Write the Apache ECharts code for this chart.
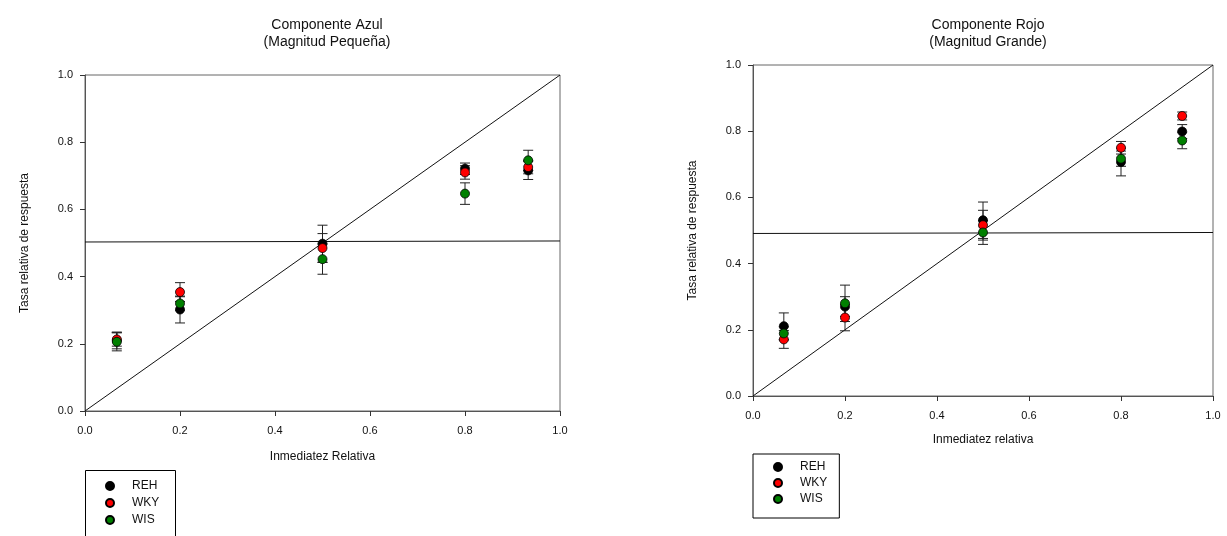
<!DOCTYPE html>
<html>
<head>
<meta charset="utf-8">
<script src="https://cdn.jsdelivr.net/npm/echarts@6/dist/echarts.min.js"></script>
<style>
html,body{margin:0;padding:0;background:#fff;}
#chart{width:1227px;height:536px;}
</style>
</head>
<body>
<div id="chart"></div>
<script>
// ---- Data ----
const seriesNames = ['REH', 'WKY', 'WIS'];
const xValues = [0.067, 0.2, 0.5, 0.8, 0.933];
const tickLabels = ['0.0', '0.2', '0.4', '0.6', '0.8', '1.0'];

// Componente Azul (Magnitud Pequeña)
const azulREH = [0.210, 0.302, 0.498, 0.721, 0.716];
const azulWKY = [0.213, 0.354, 0.485, 0.710, 0.726];
const azulWIS = [0.206, 0.320, 0.452, 0.647, 0.746];
const azulREHerr = [0.025, 0.040, 0.055, 0.017, 0.027];
const azulWKYerr = [0.020, 0.028, 0.043, 0.020, 0.020];
const azulWISerr = [0.027, 0.020, 0.045, 0.032, 0.030];
const azulFlat = [0.503, 0.506];

// Componente Rojo (Magnitud Grande)
const rojoREH = [0.211, 0.270, 0.531, 0.707, 0.799];
const rojoWKY = [0.171, 0.237, 0.516, 0.750, 0.846];
const rojoWIS = [0.189, 0.280, 0.494, 0.717, 0.772];
const rojoREHerr = [0.040, 0.030, 0.055, 0.042, 0.021];
const rojoWKYerr = [0.027, 0.040, 0.045, 0.019, 0.012];
const rojoWISerr = [0.020, 0.055, 0.036, 0.023, 0.025];
const rojoFlat = [0.491, 0.494];

const identityLine = [[0, 0], [1, 1]];
const colors = {REH: '#000000', WKY: '#ff0000', WIS: '#008000'};

// ---- Build ----
const FONT = 'Liberation Sans, Arial, sans-serif';
const chart = echarts.init(document.getElementById('chart'), null, {renderer: 'canvas'});

function pts(vals) { return vals.map((v, i) => [xValues[i], v]); }
function errs(vals, e) { return vals.map((v, i) => [xValues[i], v - e[i], v + e[i]]); }

function errorSeries(idx, data) {
  return {
    type: 'custom', xAxisIndex: idx, yAxisIndex: idx, z: 3, silent: true,
    data: data,
    renderItem: function (params, api) {
      const lo = api.coord([api.value(0), api.value(1)]);
      const hi = api.coord([api.value(0), api.value(2)]);
      const w = 5;
      const st = {stroke: '#222', lineWidth: 1};
      return {type: 'group', children: [
        {type: 'line', shape: {x1: lo[0], y1: lo[1], x2: hi[0], y2: hi[1]}, style: st},
        {type: 'line', shape: {x1: lo[0] - w, y1: lo[1], x2: lo[0] + w, y2: lo[1]}, style: st},
        {type: 'line', shape: {x1: hi[0] - w, y1: hi[1], x2: hi[0] + w, y2: hi[1]}, style: st}
      ]};
    }
  };
}
function scatterSeries(idx, name, vals) {
  return {
    type: 'scatter', name: name, xAxisIndex: idx, yAxisIndex: idx, z: 5,
    data: pts(vals), symbol: 'circle', symbolSize: 9,
    itemStyle: {color: colors[name], borderColor: '#000', borderWidth: 0.8, opacity: 1}
  };
}
function lineSeries(idx, data) {
  return {
    type: 'line', xAxisIndex: idx, yAxisIndex: idx, z: 2, silent: true,
    data: data, symbol: 'none', lineStyle: {color: '#111', width: 1}
  };
}

function xAxisDef(idx, nameGap) {
  return {
    type: 'value', gridIndex: idx, min: 0, max: 1, interval: 0.2,
    name: idx === 0 ? 'Inmediatez Relativa' : 'Inmediatez relativa',
    nameLocation: 'middle', nameGap: nameGap,
    nameTextStyle: {fontFamily: FONT, fontSize: 12, color: '#111'},
    axisLine: {show: true, lineStyle: {color: '#555', width: 1}},
    axisTick: {show: true, inside: false, length: 5, lineStyle: {color: '#333'}},
    axisLabel: {fontFamily: FONT, fontSize: 11, color: '#111', margin: 14,
      formatter: v => tickLabels[Math.round(v * 5)]},
    splitLine: {show: false}
  };
}
function yAxisDef(idx) {
  return {
    type: 'value', gridIndex: idx, min: 0, max: 1, interval: 0.2,
    name: 'Tasa relativa de respuesta',
    nameLocation: 'middle', nameGap: 54, nameRotate: 90,
    nameTextStyle: {fontFamily: FONT, fontSize: 12, color: '#111'},
    axisLine: {show: true, lineStyle: {color: '#555', width: 1}},
    axisTick: {show: true, inside: false, length: 5, lineStyle: {color: '#333'}},
    axisLabel: {fontFamily: FONT, fontSize: 11, color: '#111', margin: 12,
      formatter: v => tickLabels[Math.round(v * 5)]},
    splitLine: {show: false}
  };
}
function legendDef(left, top, pad, gap, border) {
  return {
    show: true, orient: 'vertical', left: left, top: top,
    data: seriesNames, icon: 'circle', itemWidth: 8, itemHeight: 8, itemGap: gap,
    borderColor: '#000', borderWidth: border ? 1 : 0, padding: pad,
    selectedMode: false,
    textStyle: {fontFamily: FONT, fontSize: 12, color: '#111', padding: [0, 0, 0, 13]}
  };
}

const option = {
  backgroundColor: '#fff',
  animation: false,
  title: [
    {text: 'Componente Azul\n(Magnitud Pequeña)', left: 322, top: 12, textAlign: 'center',
     textStyle: {fontFamily: FONT, fontSize: 14, fontWeight: 'normal', color: '#111', lineHeight: 17}},
    {text: 'Componente Rojo\n(Magnitud Grande)', left: 983, top: 12, textAlign: 'center',
     textStyle: {fontFamily: FONT, fontSize: 14, fontWeight: 'normal', color: '#111', lineHeight: 17}}
  ],
  graphic: [
    {type: 'rect', shape: {x: 85.5, y: 470.5, width: 90, height: 80},
     style: {fill: 'none', stroke: '#000', lineWidth: 1}, silent: true}
  ],
  legend: [legendDef(85, 470, [10, 10, 2, 20], 5, false), legendDef(753, 454, [7, 12, 13, 20], 4, true)],
  grid: [
    {left: 85, top: 75, width: 475, height: 336, show: true, borderColor: '#666', borderWidth: 1, backgroundColor: 'transparent'},
    {left: 753, top: 65, width: 460, height: 331, show: true, borderColor: '#666', borderWidth: 1, backgroundColor: 'transparent'}
  ],
  xAxis: [xAxisDef(0, 40), xAxisDef(1, 38)],
  yAxis: [yAxisDef(0), yAxisDef(1)],
  series: [
    lineSeries(0, identityLine),
    lineSeries(0, [[0, azulFlat[0]], [1, azulFlat[1]]]),
    errorSeries(0, errs(azulREH, azulREHerr)),
    errorSeries(0, errs(azulWKY, azulWKYerr)),
    errorSeries(0, errs(azulWIS, azulWISerr)),
    scatterSeries(0, 'REH', azulREH),
    scatterSeries(0, 'WKY', azulWKY),
    scatterSeries(0, 'WIS', azulWIS),
    lineSeries(1, identityLine),
    lineSeries(1, [[0, rojoFlat[0]], [1, rojoFlat[1]]]),
    errorSeries(1, errs(rojoREH, rojoREHerr)),
    errorSeries(1, errs(rojoWKY, rojoWKYerr)),
    errorSeries(1, errs(rojoWIS, rojoWISerr)),
    scatterSeries(1, 'REH', rojoREH),
    scatterSeries(1, 'WKY', rojoWKY),
    scatterSeries(1, 'WIS', rojoWIS)
  ]
};
chart.setOption(option);
</script>
</body>
</html>
